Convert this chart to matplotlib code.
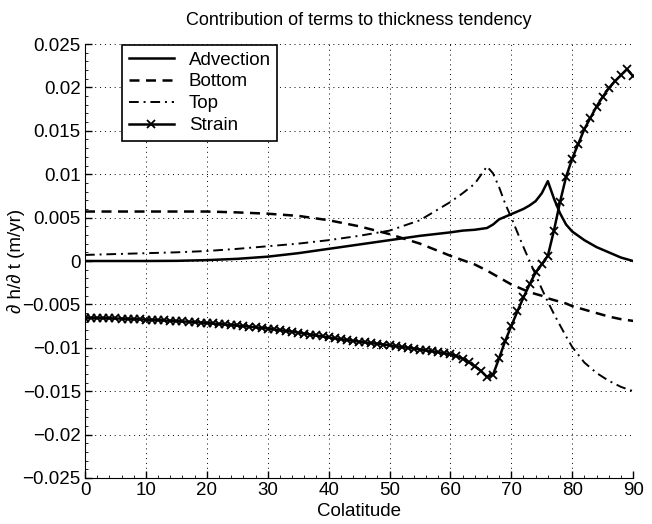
import numpy as np
import matplotlib
matplotlib.use('Agg')
import matplotlib.pyplot as plt
from matplotlib.ticker import AutoMinorLocator

plt.rcParams['font.family'] = ['Liberation Sans', 'DejaVu Sans']

# colatitude for the strain series (one marker per degree)
colat = list(range(0, 91))
strain = [-0.00653, -0.00654, -0.00656, -0.00658, -0.00660, -0.00662, -0.00664, -0.00667, -0.00670, -0.00672,
          -0.00675, -0.00678, -0.00681, -0.00685, -0.00688, -0.00692, -0.00696, -0.00700, -0.00705, -0.00709,
          -0.00714, -0.00720, -0.00725, -0.00731, -0.00737, -0.00743, -0.00750, -0.00757, -0.00764, -0.00771,
          -0.00778, -0.00787, -0.00796, -0.00806, -0.00815, -0.00825, -0.00836, -0.00847, -0.00858, -0.00869,
          -0.00880, -0.00890, -0.00900, -0.00910, -0.00920, -0.00929, -0.00937, -0.00946, -0.00954, -0.00962,
          -0.00970, -0.00980, -0.00990, -0.01000, -0.01010, -0.01020, -0.01030, -0.01040, -0.01050, -0.01062,
          -0.01076, -0.01095, -0.01125, -0.01165, -0.01215, -0.01265, -0.01335, -0.01310, -0.01120, -0.00920,
          -0.00750, -0.00580, -0.00420, -0.00270, -0.00130, -0.00040, 0.00060, 0.00350, 0.00680, 0.00970,
          0.01180, 0.01350, 0.01520, 0.01650, 0.01780, 0.01890, 0.01990, 0.02070, 0.02140, 0.02210,
          0.02130]

# colatitude for the unmarked curves
colat_c = [0, 5, 10, 15, 20, 25, 30, 35, 40, 45, 50, 55, 60, 62, 64, 66, 67, 68, 69, 70,
           71, 72, 73, 74, 75, 76, 77, 78, 79, 80, 82, 84, 86, 88, 90]
advection = [0.0, 0.0, 0.0, 0.00002, 0.0001, 0.00025, 0.0005, 0.0009, 0.0014, 0.0019, 0.0024, 0.0029,
             0.0033, 0.0035, 0.0036, 0.0038, 0.0042, 0.0048, 0.0051, 0.0054, 0.0057, 0.0060, 0.0064,
             0.0069, 0.0078, 0.0092, 0.0072, 0.0055, 0.0042, 0.0034, 0.0024, 0.0016, 0.0010, 0.0004, 0.0]
bottom = [0.0057, 0.0057, 0.0057, 0.0057, 0.0057, 0.0056, 0.00545, 0.0052, 0.0047, 0.0040, 0.0031, 0.0020,
          0.0006, 0.0001, -0.0004, -0.0011, -0.0015, -0.0019, -0.0023, -0.0027, -0.0030, -0.0033, -0.0036,
          -0.0038, -0.0040, -0.0043, -0.0045, -0.0047, -0.0049, -0.0052, -0.0056, -0.0060, -0.0064, -0.0067,
          -0.0069]
top = [0.0007, 0.0008, 0.0009, 0.0010, 0.00115, 0.0014, 0.0017, 0.0020, 0.0024, 0.0029, 0.0035, 0.0047,
       0.0068, 0.0078, 0.0089, 0.0109, 0.0101, 0.0085, 0.0066, 0.0050, 0.0033, 0.0016, 0.0000, -0.0016,
       -0.0032, -0.0047, -0.0061, -0.0074, -0.0087, -0.0099, -0.0117, -0.0129, -0.0138, -0.0145, -0.0150]

xticks = [0, 10, 20, 30, 40, 50, 60, 70, 80, 90]
yticks = [-0.025, -0.02, -0.015, -0.01, -0.005, 0, 0.005, 0.01, 0.015, 0.02, 0.025]
ytick_labels = ['\u22120.025', '\u22120.02', '\u22120.015', '\u22120.01', '\u22120.005', '0',
                '0.005', '0.01', '0.015', '0.02', '0.025']

fig = plt.figure(figsize=(6.52, 5.24), dpi=100)
ax = fig.add_axes([0.1304, 0.0878, 0.8406, 0.8282])

ax.plot(colat_c, advection, 'k-', lw=1.8, label='Advection')
ax.plot(colat_c, bottom, 'k--', lw=1.8, dashes=(4, 2.6), label='Bottom')
ax.plot(colat_c, top, 'k-.', lw=1.4, dashes=(5, 2.5, 1, 2.5), label='Top')
ax.plot(colat, strain, 'k-', lw=1.8, marker='x', ms=5.5, mew=1.3, label='Strain')

ax.set_xlim(0, 90)
ax.set_ylim(-0.025, 0.025)
ax.set_xticks(xticks)
ax.set_yticks(yticks)
ax.set_yticklabels(ytick_labels)
ax.xaxis.set_minor_locator(AutoMinorLocator(5))
ax.yaxis.set_minor_locator(AutoMinorLocator(5))
ax.tick_params(which='both', direction='in', labelsize=13.5, top=False, right=False)
ax.tick_params(which='major', length=5, width=1, pad=3)
ax.tick_params(which='minor', length=2.5, width=0.6)
ax.spines['top'].set_visible(False)
ax.spines['right'].set_visible(False)
ax.grid(True, which='major', linestyle=(0, (1, 4)), color='k', lw=0.7)

ax.set_title('Contribution of terms to thickness tendency', fontsize=13, pad=14)
ax.set_xlabel('Colatitude', fontsize=13.5, labelpad=3)
ax.set_ylabel('\u2202 h/\u2202 t (m/yr)', fontsize=13.5, labelpad=-2)

leg = ax.legend(loc='upper left', bbox_to_anchor=(0.066, 1.0), fontsize=13.5, frameon=True,
                fancybox=False, edgecolor='k', framealpha=1, handlelength=2.4,
                borderpad=0.35, labelspacing=0.25, handletextpad=0.8, numpoints=1,
                borderaxespad=0.05)
leg.get_frame().set_linewidth(1.2)

fig.savefig('out.png', dpi=100)
